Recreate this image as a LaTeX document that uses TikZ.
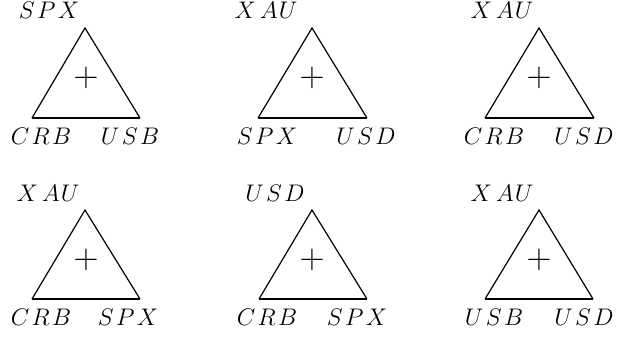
\documentclass[tikz,border=0pt]{standalone}
\begin{document}
\begin{tikzpicture}[x=0.5pt,y=-0.5pt,
  lbl/.style={inner sep=0pt,font=\fontsize{12}{14}\selectfont},
  plus/.style={inner sep=0pt,font=\fontsize{18}{20}\selectfont},
  side/.style={line width=0.6pt,line join=miter},
  base/.style={line width=1.4pt}]
\newcommand\lsp{\mkern1.8mu}
\newcommand\xau{$X\mkern3mu A\mkern0.8mu U$}
\useasboundingbox (0,0) rectangle (636,338);
% Triangle 1
\coordinate (t1) at (85,28); \coordinate (l1) at (32,118); \coordinate (r1) at (140,118);
\draw[side] (l1) -- (t1) -- (r1); \draw[base] (l1) -- (r1);
\node[plus] (p1) at (86,78) {$+$};
\node[lbl] (a1) at (49,10) {$S\lsp P\lsp X$};
\node[lbl] (b1) at (41,136) {$C\lsp R\lsp B$};
\node[lbl] (c1) at (130,136) {$U\lsp S\lsp B$};
% Triangle 2
\coordinate (t2) at (312,28); \coordinate (l2) at (258,118); \coordinate (r2) at (367,118);
\draw[side] (l2) -- (t2) -- (r2); \draw[base] (l2) -- (r2);
\node[plus] (p2) at (312,78) {$+$};
\node[lbl] (a2) at (266,10) {\xau};
\node[lbl] (b2) at (267,136) {$S\lsp P\lsp X$};
\node[lbl] (c2) at (366,136) {$U\lsp S\lsp D$};
% Triangle 3
\coordinate (t3) at (539,28); \coordinate (l3) at (485,118); \coordinate (r3) at (594,118);
\draw[side] (l3) -- (t3) -- (r3); \draw[base] (l3) -- (r3);
\node[plus] (p3) at (539,78) {$+$};
\node[lbl] (a3) at (502,10) {\xau};
\node[lbl] (b3) at (494,136) {$C\lsp R\lsp B$};
\node[lbl] (c3) at (584,136) {$U\lsp S\lsp D$};
% Triangle 4
\coordinate (t4) at (85,210); \coordinate (l4) at (32,299); \coordinate (r4) at (140,299);
\draw[side] (l4) -- (t4) -- (r4); \draw[base] (l4) -- (r4);
\node[plus] (p4) at (86,260) {$+$};
\node[lbl] (a4) at (48,193) {\xau};
\node[lbl] (b4) at (41,317) {$C\lsp R\lsp B$};
\node[lbl] (c4) at (128,317) {$S\lsp P\lsp X$};
% Triangle 5
\coordinate (t5) at (312,210); \coordinate (l5) at (259,299); \coordinate (r5) at (367,299);
\draw[side] (l5) -- (t5) -- (r5); \draw[base] (l5) -- (r5);
\node[plus] (p5) at (312,260) {$+$};
\node[lbl] (a5) at (275,193) {$U\lsp S\lsp D$};
\node[lbl] (b5) at (267,317) {$C\lsp R\lsp B$};
\node[lbl] (c5) at (357,317) {$S\lsp P\lsp X$};
% Triangle 6
\coordinate (t6) at (539,210); \coordinate (l6) at (485,299); \coordinate (r6) at (593,299);
\draw[side] (l6) -- (t6) -- (r6); \draw[base] (l6) -- (r6);
\node[plus] (p6) at (539,260) {$+$};
\node[lbl] (a6) at (502,193) {\xau};
\node[lbl] (b6) at (494,317) {$U\lsp S\lsp B$};
\node[lbl] (c6) at (584,317) {$U\lsp S\lsp D$};
\end{tikzpicture}
\end{document}
